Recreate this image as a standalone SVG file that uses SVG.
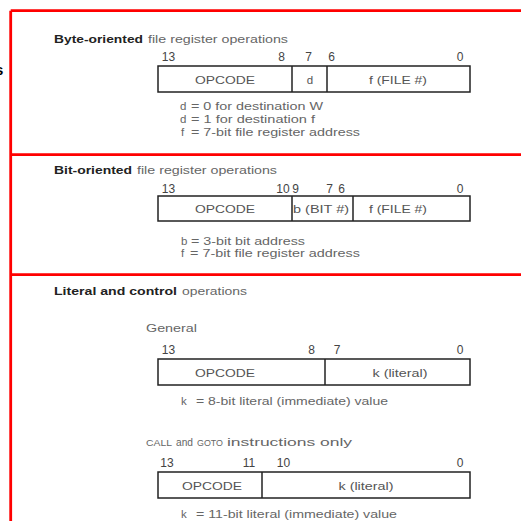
<svg xmlns="http://www.w3.org/2000/svg" width="521" height="521" viewBox="0 0 521 521">
<style>
.t{font-family:"Liberation Sans",Arial,sans-serif;font-size:11.5px;fill:#666}
.b{font-family:"Liberation Sans",Arial,sans-serif;font-size:11.5px;font-weight:bold;fill:#222}
.n{font-family:"Liberation Sans",Arial,sans-serif;font-size:12px;fill:#444;text-anchor:middle}
.c{font-family:"Liberation Sans",Arial,sans-serif;font-size:11.5px;fill:#555;text-anchor:middle}
.box{fill:#fff;stroke:#222;stroke-width:1.5}
.div{stroke:#222;stroke-width:1.5}
.red{stroke:#f00;stroke-width:2.8;fill:none}
.sc{font-family:"Liberation Sans",Arial,sans-serif;font-size:9px;fill:#666}
</style>
<rect width="521" height="521" fill="#fff"/>
<text x="-5" y="75" style="font-family:'Liberation Sans',Arial,sans-serif;font-size:15px;font-weight:bold;fill:#000">s</text>
<g id="frame">
<path class="red" d="M10.7 10.7H521M10.7 10.7V521M10.7 154.7H521M10.7 274.7H521"/>
</g>
<g id="byte-oriented">
<text class="b" x="54" y="43" textLength="89" lengthAdjust="spacingAndGlyphs">Byte-oriented</text>
<text class="t" x="148" y="43" textLength="140" lengthAdjust="spacingAndGlyphs">file register operations</text>
<text class="n" x="168.5" y="61">13</text>
<text class="n" x="281.5" y="61">8</text>
<text class="n" x="308.5" y="61">7</text>
<text class="n" x="331.5" y="61">6</text>
<text class="n" x="460" y="61">0</text>
<rect class="box" x="158" y="66" width="312" height="26"/>
<line class="div" x1="292" y1="66" x2="292" y2="92"/>
<line class="div" x1="327" y1="66" x2="327" y2="92"/>
<text class="c" x="225" y="83.5" textLength="60" lengthAdjust="spacingAndGlyphs">OPCODE</text>
<text class="c" x="310" y="83.5">d</text>
<text class="c" x="398" y="83.5" textLength="58" lengthAdjust="spacingAndGlyphs">f (FILE #)</text>
<text class="t" x="180" y="110">d</text>
<text class="t" x="191" y="110" textLength="132" lengthAdjust="spacingAndGlyphs">= 0 for destination W</text>
<text class="t" x="180" y="123">d</text>
<text class="t" x="191" y="123" textLength="124" lengthAdjust="spacingAndGlyphs">= 1 for destination f</text>
<text class="t" x="181" y="136">f</text>
<text class="t" x="191" y="136" textLength="169" lengthAdjust="spacingAndGlyphs">= 7-bit file register address</text>
</g>
<g id="bit-oriented">
<text class="b" x="54" y="174" textLength="78" lengthAdjust="spacingAndGlyphs">Bit-oriented</text>
<text class="t" x="137" y="174" textLength="140" lengthAdjust="spacingAndGlyphs">file register operations</text>
<text class="n" x="168.5" y="193">13</text>
<text class="n" x="283" y="193">10</text>
<text class="n" x="295.5" y="193">9</text>
<text class="n" x="329.5" y="193">7</text>
<text class="n" x="341.5" y="193">6</text>
<text class="n" x="460" y="193">0</text>
<rect class="box" x="158" y="196" width="312" height="25"/>
<line class="div" x1="292" y1="196" x2="292" y2="221"/>
<line class="div" x1="353" y1="196" x2="353" y2="221"/>
<text class="c" x="225" y="213" textLength="60" lengthAdjust="spacingAndGlyphs">OPCODE</text>
<text class="c" x="321" y="213" textLength="56" lengthAdjust="spacingAndGlyphs">b (BIT #)</text>
<text class="c" x="398" y="213" textLength="58" lengthAdjust="spacingAndGlyphs">f (FILE #)</text>
<text class="t" x="181" y="244.5">b</text>
<text class="t" x="191" y="244.5" textLength="114" lengthAdjust="spacingAndGlyphs">= 3-bit bit address</text>
<text class="t" x="181" y="256.5">f</text>
<text class="t" x="190" y="256.5" textLength="170" lengthAdjust="spacingAndGlyphs">= 7-bit file register address</text>
</g>
<g id="literal-control">
<text class="b" x="54" y="295" textLength="123" lengthAdjust="spacingAndGlyphs">Literal and control</text>
<text class="t" x="182" y="295" textLength="65" lengthAdjust="spacingAndGlyphs">operations</text>
</g>
<g id="general">
<text class="t" x="146" y="332" textLength="51" lengthAdjust="spacingAndGlyphs">General</text>
<text class="n" x="168.5" y="354">13</text>
<text class="n" x="311.5" y="354">8</text>
<text class="n" x="337" y="354">7</text>
<text class="n" x="460" y="354">0</text>
<rect class="box" x="158" y="359" width="312" height="26"/>
<line class="div" x1="325" y1="359" x2="325" y2="385"/>
<text class="c" x="225" y="376.5" textLength="60" lengthAdjust="spacingAndGlyphs">OPCODE</text>
<text class="c" x="400" y="376.5" textLength="55" lengthAdjust="spacingAndGlyphs">k (literal)</text>
<text class="t" x="181" y="405">k</text>
<text class="t" x="196" y="405" textLength="192" lengthAdjust="spacingAndGlyphs">= 8-bit literal (immediate) value</text>
</g>
<g id="call-goto">
<text class="sc" x="146" y="446" textLength="26" lengthAdjust="spacingAndGlyphs">CALL</text>
<text class="t" x="176" y="446" textLength="17" lengthAdjust="spacingAndGlyphs">and</text>
<text class="sc" x="197" y="446" textLength="26" lengthAdjust="spacingAndGlyphs">GOTO</text>
<text class="t" x="227" y="446" textLength="125" lengthAdjust="spacingAndGlyphs">instructions only</text>
<text class="n" x="167" y="467">13</text>
<text class="n" x="249" y="467">11</text>
<text class="n" x="283.5" y="467">10</text>
<text class="n" x="460" y="467">0</text>
<rect class="box" x="158" y="472" width="312" height="26"/>
<line class="div" x1="262" y1="472" x2="262" y2="498"/>
<text class="c" x="212" y="489.5" textLength="60" lengthAdjust="spacingAndGlyphs">OPCODE</text>
<text class="c" x="366" y="489.5" textLength="55" lengthAdjust="spacingAndGlyphs">k (literal)</text>
<text class="t" x="181" y="518">k</text>
<text class="t" x="196" y="518" textLength="201" lengthAdjust="spacingAndGlyphs">= 11-bit literal (immediate) value</text>
</g>
</svg>
